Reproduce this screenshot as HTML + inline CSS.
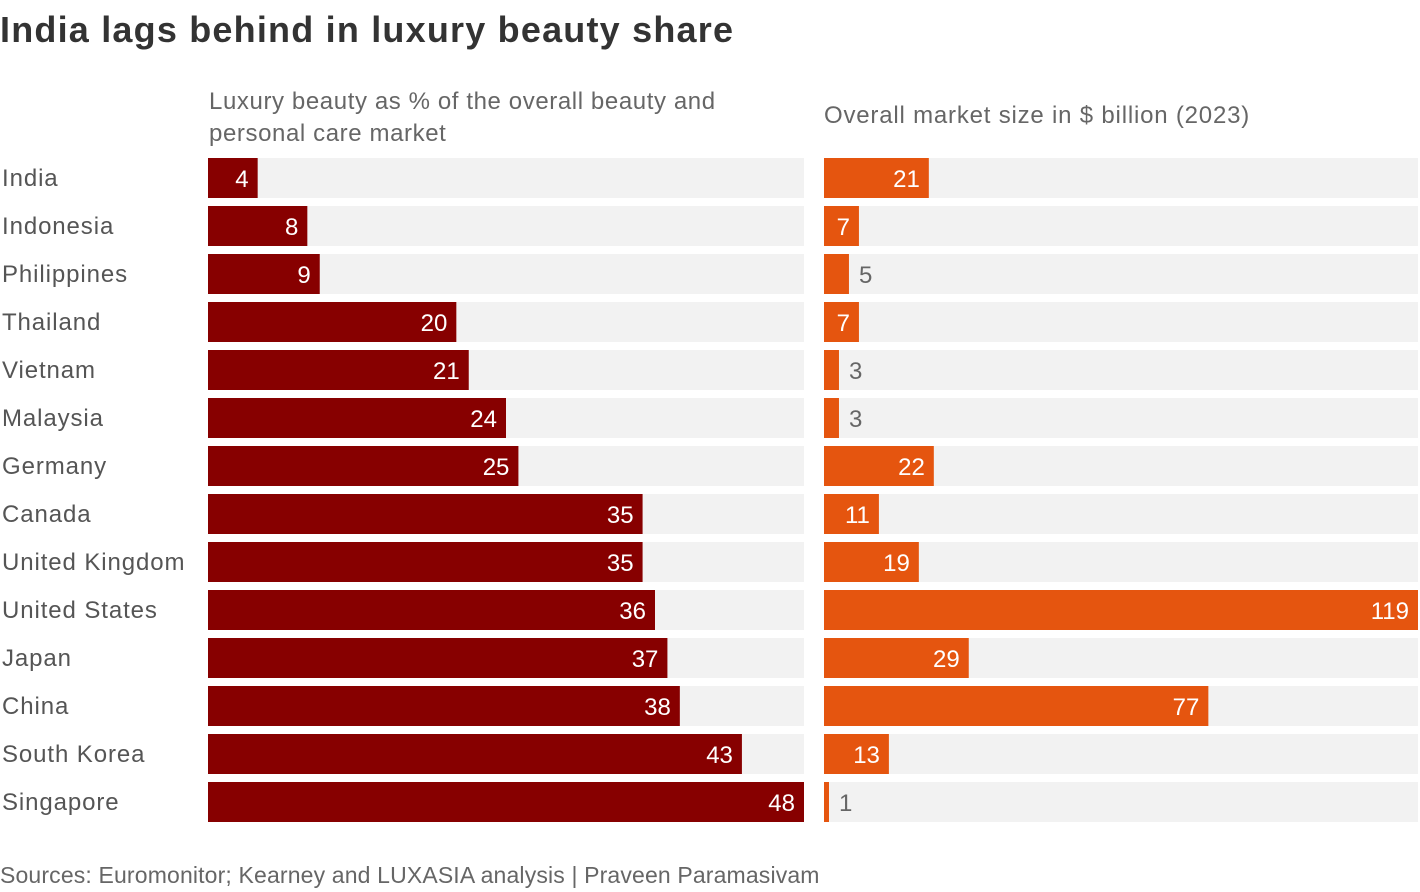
<!DOCTYPE html>
<html><head><meta charset="utf-8"><style>
body{margin:0;width:1420px;height:892px;background:#fff;font-family:"Liberation Sans",sans-serif;overflow:hidden;position:relative}
.t{position:absolute;white-space:nowrap}
</style></head><body>
<div class="t" style="left:0;top:9px;font-size:36px;font-weight:bold;color:#333;letter-spacing:1.2px">India lags behind in luxury beauty share</div>
<div class="t" style="left:209px;top:86px;font-size:24px;color:#666;line-height:32px;white-space:normal;width:560px;letter-spacing:0.6px">Luxury beauty as % of the overall beauty and personal care market</div>
<div class="t" style="left:824px;top:102px;font-size:24px;color:#666;letter-spacing:0.8px">Overall market size in $ billion (2023)</div>
<div class="t" style="left:0;top:862px;font-size:23px;color:#666;letter-spacing:0.15px">Sources: Euromonitor; Kearney and LUXASIA analysis | Praveen Paramasivam</div>
<svg id="c" width="1420" height="892" style="position:absolute;left:0;top:0"></svg>
<script>
const countries=["India","Indonesia","Philippines","Thailand","Vietnam","Malaysia","Germany","Canada","United Kingdom","United States","Japan","China","South Korea","Singapore"];
const luxuryShare=[4,8,9,20,21,24,25,35,35,36,37,38,43,48];
const marketSize=[21,7,5,7,3,3,22,11,19,119,29,77,13,1];
const NS="http://www.w3.org/2000/svg";
const svg=document.getElementById('c');
function el(t,a){const e=document.createElementNS(NS,t);for(const k in a)e.setAttribute(k,a[k]);svg.appendChild(e);return e;}
const rowY=i=>158+i*48;
const panels=[{x0:208,w:596,max:48,data:luxuryShare,color:"#870000",name:"luxury-share"},{x0:824,w:594,max:119,data:marketSize,color:"#e5550f",name:"market-size"}];
countries.forEach((c,i)=>{
  const y=rowY(i);
  const l=el('text',{x:2,y:y+28,'font-size':24,fill:'#555','letter-spacing':'0.9'});l.textContent=c;
  
  
  panels.forEach(p=>{
    const bg=el('rect',{x:p.x0,y:y,width:p.w,height:40,fill:'#f2f2f2'});
    
    
    const v=p.data[i];const bw=v/p.max*p.w;
    const r=el('rect',{x:p.x0,y:y,width:bw,height:40,fill:p.color});
    
    
    const inside=bw>=30;
    const t=el('text',{x:inside?p.x0+bw-9:p.x0+bw+10,y:y+29,'font-size':24,fill:inside?'#fff':'#666','text-anchor':inside?'end':'start'});
    t.textContent=v;
    
    
  });
});
</script>
</body></html>
